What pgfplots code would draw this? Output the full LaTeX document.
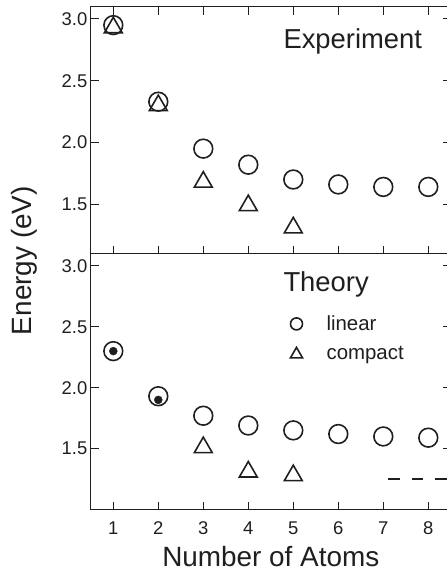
\documentclass[border=0pt]{standalone}
\usepackage{fontspec}
\setmainfont{Liberation Sans}
\usepackage{pgfplots}
\pgfplotsset{compat=1.18}
\usetikzlibrary{calc}

\definecolor{ink}{gray}{0.12}
\newcommand\ticksize{\fontsize{18.5}{22}\selectfont}

\pgfplotsset{
  panel/.style={
    scale only axis, width=360bp,
    xmin=0.5, xmax=8.5,
    xtick={1,...,8},
    tick align=inside,
    major tick length=8bp,
    axis line style={ink, line width=1.1bp},
    every tick/.style={ink, line width=1.1bp},
    yticklabel pos=left,
    /pgf/number format/fixed,
    /pgf/number format/fixed zerofill,
    /pgf/number format/precision=1,
    /pgf/number format/assume math mode=true,
    yticklabel style={font=\ticksize, text=ink},
    xticklabel style={font=\ticksize, text=ink, anchor=base, yshift=-24.5bp},
  },
  lin/.style={only marks, mark=o, mark size=9.4bp, line width=1.6bp, ink},
  cmp/.style={only marks, mark=triangle, mark size=10.3bp, line width=1.6bp, ink},
}

\begin{document}
\begin{tikzpicture}
\begin{axis}[panel, name=top,
    height=247bp, ymin=1.1, ymax=3.1,
    ytick={1.5,2,2.5,3},
    xticklabels={}]
  \addplot[lin] coordinates {(1,2.95) (2,2.33) (3,1.95) (4,1.82) (5,1.70) (6,1.66) (7,1.64) (8,1.64)};
  \addplot[cmp] coordinates {(1,2.93) (2,2.30) (3,1.68) (4,1.49) (5,1.31)};
\end{axis}
\begin{axis}[panel, name=bottom,
    at={(top.south west)}, anchor=north west,
    height=256bp, ymin=1.0, ymax=3.1,
    ytick={1.5,2,2.5,3},
    xticklabels={1,2,3,4,5,6,7,8},
    xtick pos=bottom,
    legend cell align=left,
    legend style={draw=none, fill=none, inner sep=0pt,
      at={(0.554,0.758)}, anchor=north west,
      font=\fontsize{20.5}{24}\selectfont,
      row sep=14bp, column sep=24bp,
      nodes={inner sep=0pt, text=ink}}]
  \addplot[lin, legend image code/.code={\draw[mark size=6bp, line width=1.6bp] plot coordinates {(0bp,0bp)};}]
    coordinates {(1,2.30) (2,1.93) (3,1.77) (4,1.69) (5,1.65) (6,1.62) (7,1.60) (8,1.59)};
  \addlegendentry{linear}
  \addplot[cmp, legend image code/.code={\draw[mark size=7bp, line width=1.6bp] plot coordinates {(0bp,-1bp)};}]
    coordinates {(3,1.51) (4,1.31) (5,1.28)};
  \addlegendentry{compact}
  \addplot[only marks, mark=*, mark size=4bp, ink, forget plot] coordinates {(1,2.30) (2,1.90)};
  \addplot[ink, line width=1.6bp, dash pattern=on 11.7bp off 11.7bp, forget plot] coordinates {(7.11,1.25) (8.5,1.25)};
\end{axis}
\node[anchor=base west, inner sep=0pt, font=\fontsize{27.5}{33}\selectfont, text=ink]
  at ($(top.north west)+(192.5bp,-41.7bp)$) {Experiment};
\node[anchor=base west, inner sep=0pt, font=\fontsize{27.5}{33}\selectfont, text=ink]
  at ($(bottom.north west)+(192.5bp,-38.1bp)$) {Theory};
\node[rotate=90, anchor=base, inner sep=0pt, font=\fontsize{28}{33}\selectfont, text=ink]
  at ($(top.south west)+(-59bp,-7bp)$) {Energy (eV)};
\node[anchor=base, inner sep=0pt, font=\fontsize{28}{33}\selectfont, text=ink]
  at ($(bottom.south)+(0,-57bp)$) {Number of Atoms};
\pgfresetboundingbox
\useasboundingbox ($(top.north west)+(-90.8bp,6.6bp)$) rectangle ($(bottom.south west)+(356.2bp,-62.4bp)$);
\end{tikzpicture}
\end{document}
